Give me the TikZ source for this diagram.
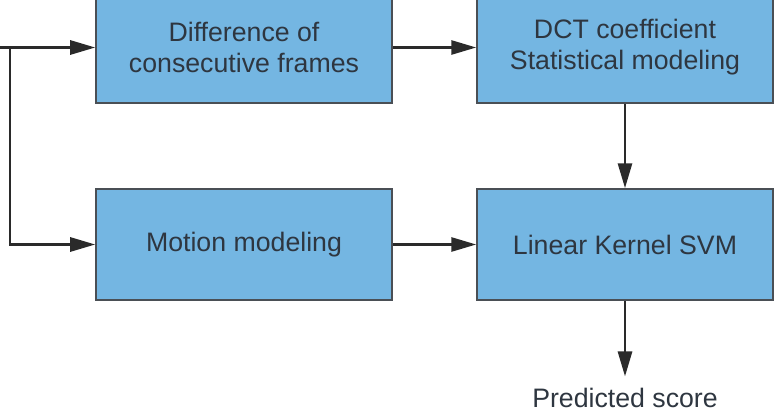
\documentclass[tikz,border=0pt]{standalone}
\usepackage{fontspec}
\setmainfont{Liberation Sans}
\usepackage{xcolor}
\usepackage{tikz}
\usetikzlibrary{arrows.meta}

\definecolor{bloqueazul}{HTML}{74B6E2}
\definecolor{bordegris}{HTML}{4A4F55}
\definecolor{textogris}{HTML}{2E3640}
\definecolor{lineagris}{HTML}{2A2A2A}

\begin{document}
\begin{tikzpicture}[x=1bp,y=1bp,
	bloque/.style={draw=bordegris,line width=1.5bp,fill=bloqueazul,
		minimum width=296bp,minimum height=111bp,inner sep=0pt,
		align=center,text=textogris,font=\fontsize{26.8}{31}\selectfont},
	flecha/.style={draw=lineagris,line width=2.8bp,
		-{Triangle[length=25bp,width=14bp]}}]
	
	% Ventana
	\useasboundingbox (0,0) rectangle (778,412);
	
	% Bloques
	\node[bloque] (dif) at (244,364.5) {Difference of\\consecutive frames};
	\node[bloque] (dct) at (625,364.5) {DCT coefficient\\Statistical modeling};
	\node[bloque] (mov) at (244,167.5) {Motion modeling};
	\node[bloque] (svm) at (625,167.5) {Linear Kernel SVM};
	\node[anchor=base,inner xsep=0pt,inner ysep=11bp,text=textogris,
		font=\fontsize{26.8}{31}\selectfont] (pred) at (625,5) {Predicted score};
	
	% Entrada
	\coordinate (ent) at (-2,364.5);
	\coordinate (rama) at (10,364.5);
	
	% Flechas
	\draw[flecha] (ent) -- (dif);
	\draw[flecha] (rama) |- (mov);
	\draw[flecha] (dif) -- (dct);
	\draw[flecha] (dct) -- (svm);
	\draw[flecha] (mov) -- (svm);
	\draw[flecha] (svm) -- (pred);
	
\end{tikzpicture}
\end{document}
